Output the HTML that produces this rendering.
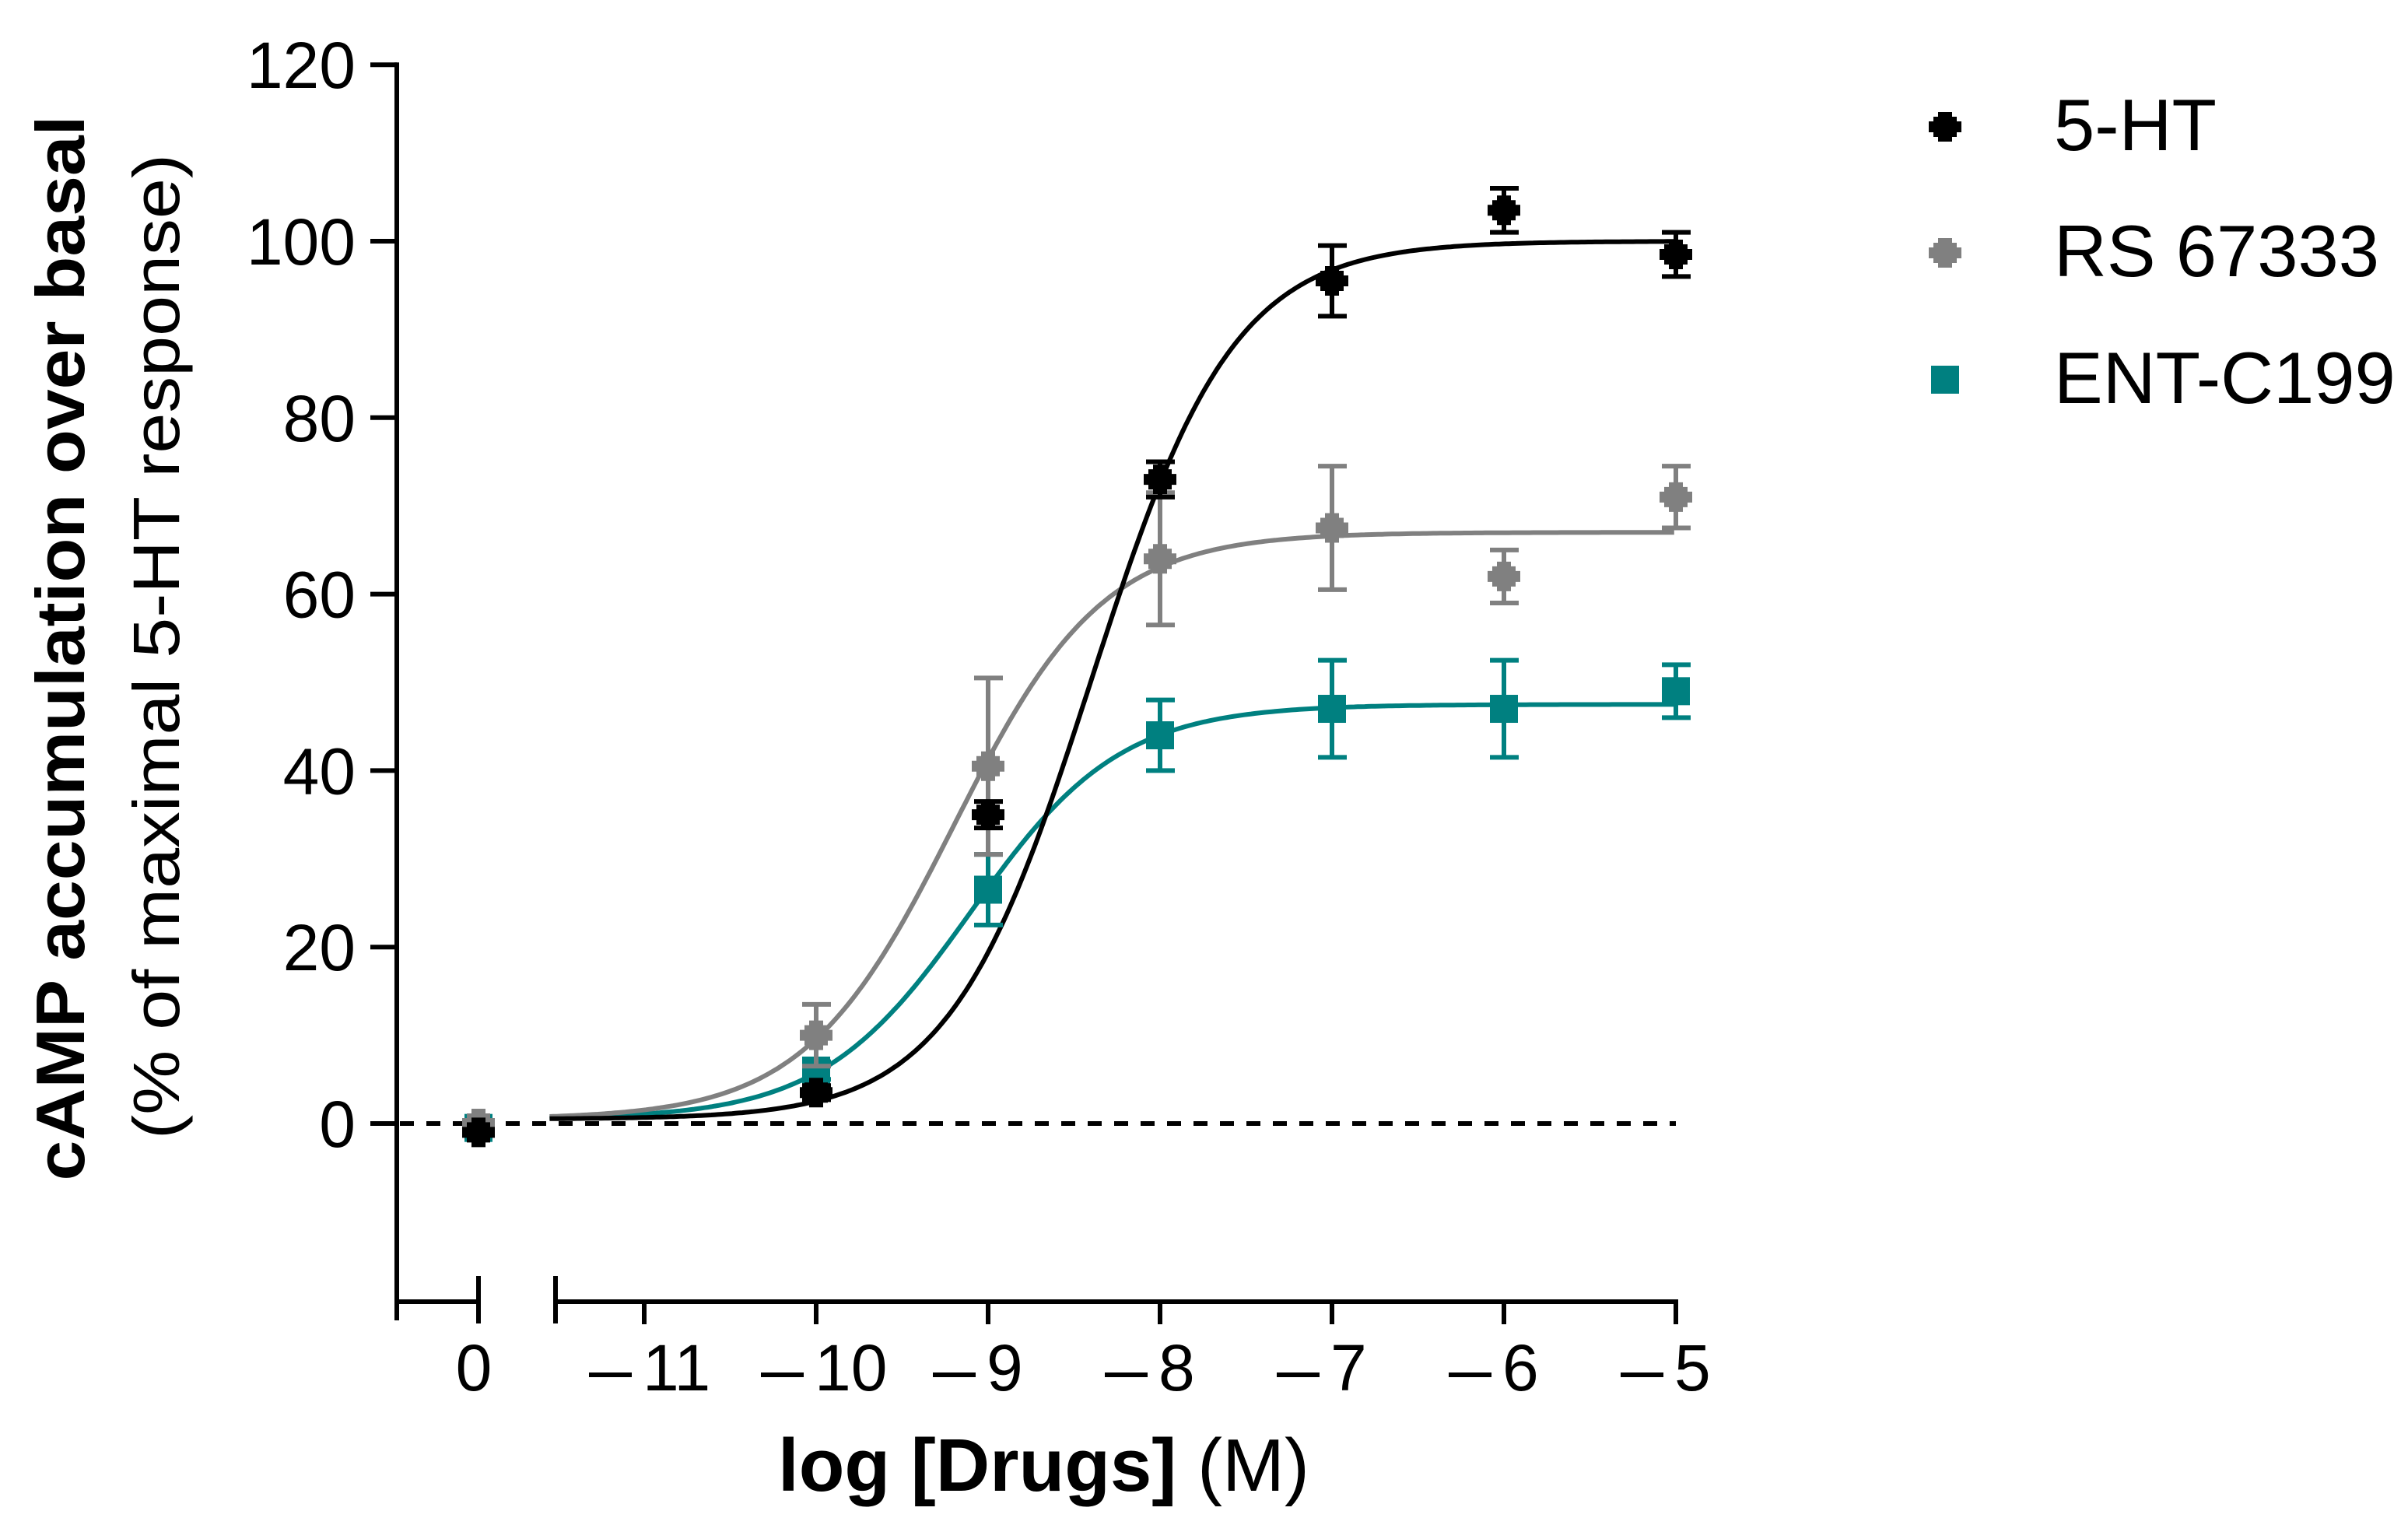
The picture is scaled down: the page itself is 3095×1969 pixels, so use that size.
<!DOCTYPE html>
<html><head><meta charset="utf-8"><style>
html,body{margin:0;padding:0;background:#fff;}
svg{display:block;font-family:"Liberation Sans",Arial,sans-serif;}
</style></head><body>
<svg id="chart" width="3095" height="1969" viewBox="0 0 3095 1969" xmlns="http://www.w3.org/2000/svg">
<g id="axes"></g>
<g id="plot"></g>
<g id="legend"></g>
<text transform="translate(108,833) rotate(-90)" text-anchor="middle" font-weight="bold" font-size="88" textLength="1369" lengthAdjust="spacingAndGlyphs">cAMP accumulation over basal</text>
<text transform="translate(230,831) rotate(-90)" text-anchor="middle" font-size="84" textLength="1266" lengthAdjust="spacingAndGlyphs">(% of maximal 5-HT response)</text>
<text x="1000" y="1916" font-size="96" textLength="683" lengthAdjust="spacingAndGlyphs"><tspan font-weight="bold">log [Drugs]</tspan> (M)</text>
</svg>
<script>
const yTicks = [0, 20, 40, 60, 80, 100, 120];
const xTicks = [-11, -10, -9, -8, -7, -6, -5];
const xTickLabels = ["11", "10", "9", "8", "7", "6", "5"];
const doses = [-10, -9, -8, -7, -6, -5];
const seriesNames = ["5-HT", "RS 67333", "ENT-C199"];
const htMean = [3.5, 35, 73, 95.5, 103.5, 98.5];
const htErr = [0.8, 1.5, 2, 4, 2.5, 2.5];
const rsMean = [10, 40.5, 64, 67.5, 62, 71];
const rsErr = [3.5, 10, 7.5, 7, 3, 3.5];
const entMean = [6, 26.5, 44, 47, 47, 49];
const entErr = [1, 4, 4, 5.5, 5.5, 3];
const basalMean = [-1, 0, -0.5];
// fitted curve parameters: bottom, top, logEC50, hill
const htFit = [0.5, 100, -8.4, 1.05];
const rsFit = [0.5, 67, -9.2, 1.0];
const entFit = [0.5, 47.5, -9.1, 1.0];

const NS = "http://www.w3.org/2000/svg";
const X0 = 2154, DEC = 221;
const xs = v => X0 + (v + 5) * DEC;
const Y0 = 1444, PER = 226.8 / 20;
const ys = v => Y0 - v * PER;
const BASALX = 615;
function mk(tag, attrs, parent) {
  const e = document.createElementNS(NS, tag);
  for (const k in attrs) e.setAttribute(k, attrs[k]);
  parent.appendChild(e);
  return e;
}
const axes = document.getElementById('axes');
const plot = document.getElementById('plot');
const legend = document.getElementById('legend');
const axBottom = 1673;

let l = mk('line', {x1: 510, y1: ys(120) - 3, x2: 510, y2: 1697, stroke: '#000', 'stroke-width': 6}, axes);


yTicks.forEach(t => {
  const tk = mk('line', {x1: 476, y1: ys(t), x2: 510, y2: ys(t), stroke: '#000', 'stroke-width': 6}, axes);
  
  
  const tx = mk('text', {x: 457, y: ys(t) + 30, 'text-anchor': 'end', 'font-size': 84}, axes);
  
  
  tx.textContent = String(t);
});
l = mk('path', {d: `M510 ${axBottom} H${BASALX}`, stroke: '#000', 'stroke-width': 6, fill: 'none'}, axes);


l = mk('line', {x1: BASALX, y1: 1640, x2: BASALX, y2: 1701, stroke: '#000', 'stroke-width': 6}, axes);


let t0 = mk('text', {x: 609, y: 1787, 'text-anchor': 'middle', 'font-size': 84}, axes);


t0.textContent = '0';
l = mk('line', {x1: 714, y1: 1640, x2: 714, y2: 1701, stroke: '#000', 'stroke-width': 6}, axes);


l = mk('line', {x1: 714, y1: axBottom, x2: xs(-5) + 3, y2: axBottom, stroke: '#000', 'stroke-width': 6}, axes);


xTicks.forEach((t, i) => {
  const tk = mk('line', {x1: xs(t), y1: axBottom, x2: xs(t), y2: 1702, stroke: '#000', 'stroke-width': 6}, axes);
  
  
  const tx = mk('text', {x: xs(t) - 2, y: 1787, 'font-size': 84}, axes);
  
  
  tx.textContent = xTickLabels[i];
  const mn = mk('rect', {x: xs(t) - 71, y: 1764, width: 55, height: 6, fill: '#000'}, axes);
  
  
});
l = mk('line', {x1: 480, y1: ys(0), x2: xs(-5), y2: ys(0), stroke: '#000', 'stroke-width': 6, 'stroke-dasharray': '18 16'}, plot);



const colors = ['#000000', '#808080', '#008080'];
const means = [htMean, rsMean, entMean];
const errs = [htErr, rsErr, entErr];
const fits = [htFit, rsFit, entFit];
const keys = ['5ht', 'rs67333', 'entc199'];

function marker(cx, cy, i, parent) {
  let m;
  if (i === 2) {
    m = mk('rect', {x: cx - 18, y: cy - 18, width: 36, height: 36, fill: colors[i]}, parent);
  } else {
    m = mk('path', {d: `M${cx-9} ${cy-19}h18v6h6v6h6v14h-6v6h-6v6h-18v-6h-6v-6h-6v-14h6v-6h6z`, fill: colors[i]}, parent);
  }
  return m;
}

[2, 1, 0].forEach(i => {
  const f = fits[i];
  let d = '';
  for (let v = -11.55; v <= -5.0001; v += 0.02) {
    const y = f[0] + (f[1] - f[0]) / (1 + Math.pow(10, (f[2] - v) * f[3]));
    d += (d ? 'L' : 'M') + xs(v).toFixed(1) + ' ' + ys(y).toFixed(1);
  }
  const c = mk('path', {d, stroke: colors[i], 'stroke-width': 6, fill: 'none'}, plot);
  
  
});
[2, 1, 0].forEach(i => {
  const g = mk('g', {}, plot);
  
  
  doses.forEach((dv, j) => {
    const cx = xs(dv), m = means[i][j], e = errs[i][j];
    const eb = mk('path', {d: `M${cx} ${ys(m+e)}V${ys(m-e)}M${cx-18} ${ys(m+e)}h37M${cx-18} ${ys(m-e)}h37`, stroke: colors[i], 'stroke-width': 6, fill: 'none'}, g);
    
    
    const mm = marker(cx, ys(m), i, g);
    
    
  });
  const bm = marker(BASALX, ys(basalMean[i]), i, g);
  
  
});
const legY = [163, 325, 488];
seriesNames.forEach((n, i) => {
  const g = mk('g', {}, legend);
  
  
  const m = marker(2500, legY[i], i, g);
  
  
  const t = mk('text', {x: 2640, y: legY[i] + 30, 'font-size': 94}, g);
  
  
  t.textContent = n;
});
</script>
</body></html>
